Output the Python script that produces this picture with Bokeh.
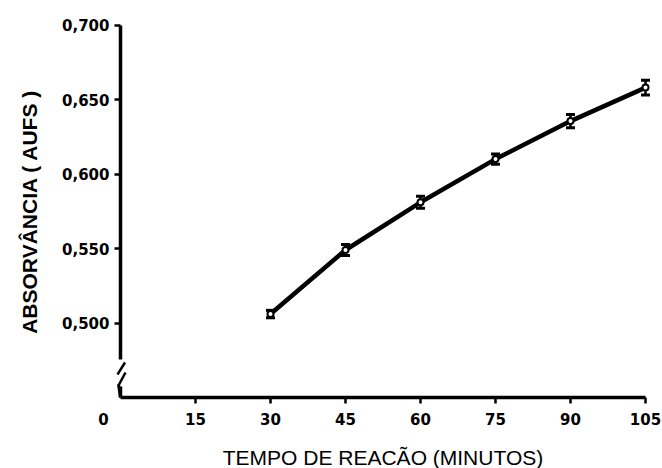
from bokeh.plotting import figure
from bokeh.models import (ColumnDataSource, Whisker, TeeHead, FixedTicker, Range1d,
                          BoxAnnotation, Arrow, Label)
from bokeh.embed import file_html
from bokeh.resources import INLINE

# ---- data ----
tempo = [30, 45, 60, 75, 90, 105]                          # minutes
absorvancia = [0.506, 0.549, 0.581, 0.610, 0.6355, 0.658]  # AUFS
erro = [0.0025, 0.0037, 0.004, 0.0035, 0.0045, 0.005]

x_ticks = [15, 30, 45, 60, 75, 90, 105]
y_ticks = [0.50, 0.55, 0.60, 0.65, 0.70]
y_tick_labels = ["0,500", "0,550", "0,600", "0,650", "0,700"]

x_title = "TEMPO DE REACÃO (MINUTOS)"
y_title = "ABSORVÂNCIA ( AUFS )"

src = ColumnDataSource(dict(
    x=tempo, y=absorvancia,
    upper=[v + e for v, e in zip(absorvancia, erro)],
    lower=[v - e for v, e in zip(absorvancia, erro)],
))

# layout: 5 px per minute, 1490 px per absorbance unit; origin (0, 0.45) at pixel (120, 397)
W, H = 662, 468
X0PX, Y0PX = 120, 397
XS, YS = 5.0, 1490.0
x_range = Range1d(-X0PX / XS, (W - X0PX) / XS)
y_range = Range1d(0.45 - (H - Y0PX) / YS, 0.45 + Y0PX / YS)

p = figure(width=W, height=H, output_backend="svg", toolbar_location=None,
           x_range=x_range, y_range=y_range, min_border=0)
p.outline_line_color = None
p.xgrid.visible = False
p.ygrid.visible = False
p.background_fill_color = "white"
p.border_fill_color = "white"

tick_font = "DejaVu Sans"
for ax in (p.xaxis[0], p.yaxis[0]):
    ax.axis_line_width = 3.5
    ax.axis_line_color = "black"
    ax.major_tick_line_width = 2.5
    ax.major_tick_line_color = "black"
    ax.major_tick_in = 0
    ax.major_tick_out = 6
    ax.minor_tick_line_color = None
    ax.major_label_text_font = tick_font
    ax.major_label_text_font_style = "bold"
    ax.major_label_text_font_size = "15px"
    ax.major_label_text_color = "black"
    ax.axis_label_text_font = "Liberation Sans"
    ax.axis_label_text_color = "black"

p.xaxis.fixed_location = 0.45
p.xaxis.ticker = FixedTicker(ticks=x_ticks)
p.xaxis.bounds = (0, 105)
p.xaxis.major_label_standoff = 9
p.xaxis.axis_label = x_title
p.xaxis.axis_label_text_font_size = "21px"
p.xaxis.axis_label_text_font_style = "normal"
p.xaxis.axis_label_standoff = 18

p.yaxis.fixed_location = 0
p.yaxis.ticker = FixedTicker(ticks=y_ticks)
p.yaxis.bounds = (0.45, 0.70)
p.yaxis.major_label_overrides = {t: l for t, l in zip(y_ticks, y_tick_labels)}
p.yaxis.major_label_standoff = 5
p.yaxis.axis_label = y_title
p.yaxis.axis_label_text_font_size = "21px"
p.yaxis.axis_label_text_font_style = "bold"
p.yaxis.axis_label_standoff = 18

# x tick label "0" sits left of the axis corner
p.add_layout(Label(x=-3.4, y=0.45, y_offset=-15, text="0", text_align="center",
                   text_baseline="top", text_font=tick_font, text_font_style="bold",
                   text_font_size="15px", text_color="black"))

# axis break on the y axis
def yv(px):
    return 0.45 + (Y0PX - px) / YS

def xv(px):
    return (px - X0PX) / XS

p.add_layout(BoxAnnotation(left=xv(115), right=xv(126), bottom=yv(386), top=yv(359),
                           fill_color="white", fill_alpha=1.0, line_color=None, level="overlay"))
p.add_layout(Arrow(end=None, x_start=xv(124.5), y_start=yv(362), x_end=xv(117), y_end=yv(374),
                   line_width=2.5, line_color="black", level="overlay"))
p.add_layout(Arrow(end=None, x_start=xv(125), y_start=yv(372), x_end=xv(118), y_end=yv(385),
                   line_width=2.5, line_color="black", level="overlay"))
p.add_layout(Arrow(end=None, x_start=xv(118), y_start=yv(384), x_end=xv(120), y_end=yv(397),
                   line_width=3, line_color="black", level="overlay"))

# data
p.line("x", "y", source=src, line_width=4.5, line_color="black")
p.add_layout(Whisker(source=src, base="x", upper="upper", lower="lower",
                     line_width=2.5, line_color="black",
                     upper_head=TeeHead(size=9, line_width=3, line_color="black"),
                     lower_head=TeeHead(size=9, line_width=3, line_color="black")))
p.scatter("x", "y", source=src, marker="circle", size=6, fill_color="white",
          line_color="black", line_width=2)

open("out.html", "w").write(file_html(p, INLINE))
